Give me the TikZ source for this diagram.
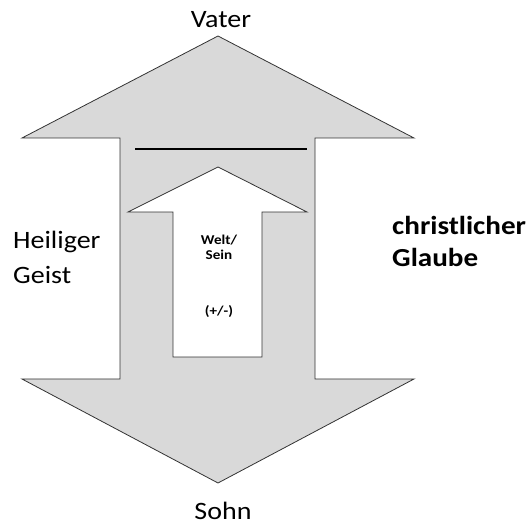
\documentclass[tikz,border=0pt]{standalone}
\usepackage{fontspec}
\setmainfont{Carlito}[FakeStretch=1.12]
\begin{document}
\begin{tikzpicture}[x=1pt,y=-1pt,
  bigshape/.style={fill=black!15, draw=black!80, line width=0.8pt, line join=miter},
  innershape/.style={fill=white, draw=black!80, line width=0.8pt},
  bar/.style={draw=black, line width=2pt},
  lbl/.style={inner sep=0pt, font=\fontsize{25}{30}\selectfont},
  blbl/.style={inner sep=0pt, font=\fontsize{26}{30}\selectfont\bfseries},
  slbl/.style={inner sep=0pt, font=\fontsize{13.5}{16}\selectfont\bfseries}]
\useasboundingbox (0,0) rectangle (531,526);
% big double arrow
\draw[bigshape] (218,36) -- (414,138) -- (315,138) -- (315,379) -- (414,379)
  -- (218,483) -- (22,379) -- (120,379) -- (120,138) -- (22,138) -- cycle;
% bar
\coordinate (barl) at (135,149);
\coordinate (barr) at (307,149);
\draw[bar] (barl) -- (barr);
% inner arrow
\draw[innershape] (218,167) -- (307,212) -- (262,212) -- (262,357) -- (173,357)
  -- (173,212) -- (128,212) -- cycle;
% labels
\node[lbl, anchor=base] (vater) at (221,28) {Vater};
\node[lbl, anchor=base] (sohn) at (223,520) {Sohn};
\node[lbl, anchor=base west] (heiliger) at (13,249) {Heiliger};
\node[lbl, anchor=base west] (geist) at (13,284) {Geist};
\node[blbl, anchor=base west] (christ) at (392,235) {christlicher};
\node[blbl, anchor=base west] (glaube) at (392,267) {Glaube};
\node[slbl, anchor=base] (welt) at (219,245) {Welt/};
\node[slbl, anchor=base] (sein) at (219,260) {Sein};
\node[slbl, anchor=base] (pm) at (219,316) {(+/-)};
\end{tikzpicture}
\end{document}
